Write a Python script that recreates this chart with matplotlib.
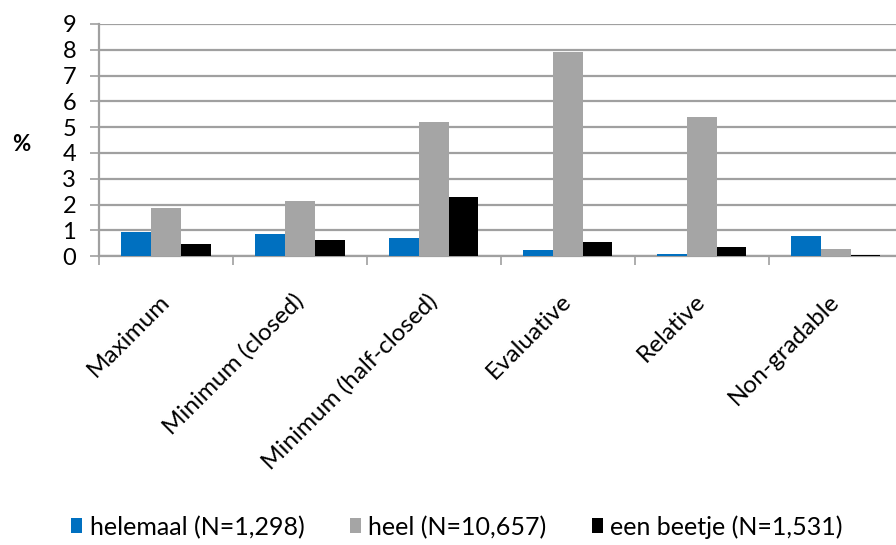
import numpy as np
import matplotlib.pyplot as plt
from matplotlib.patches import Patch

plt.rcParams['font.family'] = ['Lato', 'DejaVu Sans']

categories = ["Maximum", "Minimum (closed)", "Minimum (half-closed)",
              "Evaluative", "Relative", "Non-gradable"]
helemaal = [0.94, 0.85, 0.69, 0.25, 0.09, 0.80]
heel = [1.85, 2.13, 5.19, 7.90, 5.39, 0.27]
een_beetje = [0.49, 0.62, 2.30, 0.56, 0.35, 0.03]

series = [
    ("helemaal (N=1,298)", helemaal, "#0070C0"),
    ("heel (N=10,657)", heel, "#A5A5A5"),
    ("een beetje (N=1,531)", een_beetje, "#000000"),
]

grid_col = "#A0A0A0"

fig = plt.figure(figsize=(8.96, 5.45), dpi=100)
ax = fig.add_axes([0.1105, 0.530, 0.897, 0.426])

x = np.arange(len(categories)) + 0.5
w = 0.222
for i, (name, vals, col) in enumerate(series):
    ax.bar(x + (i - 1) * w, vals, width=w, color=col, zorder=3)

ax.set_xlim(0, len(categories))
ax.set_ylim(0, 9)
ax.set_yticks(range(0, 10))
ax.yaxis.grid(True, color=grid_col, linewidth=1.6, zorder=0)

# category boundaries get the tick marks, centres get the labels
ax.set_xticks(np.arange(len(categories) + 1))
ax.set_xticklabels([])
ax.set_xticks(x, minor=True)
ax.set_xticklabels(categories, minor=True, rotation=45, ha="right",
                   va="center", rotation_mode="anchor", fontsize=17.5)
ax.tick_params(axis="x", which="minor", length=0, pad=30)
ax.tick_params(axis="x", which="major", length=6.5, width=1.2, color=grid_col)
ax.tick_params(axis="y", length=6.5, width=1.2, color=grid_col, pad=10,
               labelsize=17)

for side in ("top", "right"):
    ax.spines[side].set_visible(False)
for side in ("left", "bottom"):
    ax.spines[side].set_color(grid_col)
    ax.spines[side].set_linewidth(1.6)

fig.text(0.024, 0.735, "%", fontsize=16, fontweight="bold",
         ha="center", va="center")

handles = [Patch(facecolor=c, label=n) for n, _, c in series]
fig.legend(handles=handles, loc="center", bbox_to_anchor=(0.51, 0.033),
           ncol=3, frameon=False, fontsize=18, handlelength=0.45,
           handleheight=0.55, handletextpad=0.3, columnspacing=1.8)

fig.savefig("out.png", dpi=100)
